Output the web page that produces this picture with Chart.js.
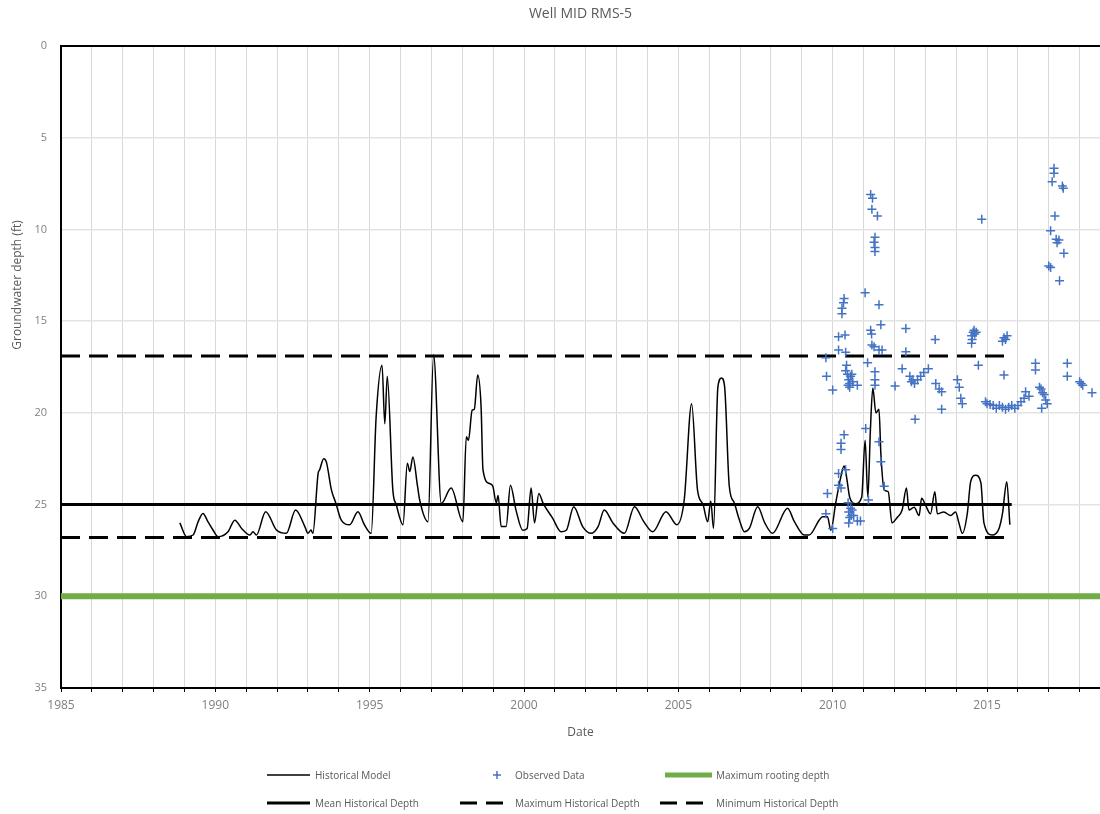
<!DOCTYPE html>
<html>
<head>
<meta charset="utf-8">
<script src="https://cdn.jsdelivr.net/npm/chart.js@4.4.1/dist/chart.umd.min.js"></script>
<style>
  html, body { margin: 0; padding: 0; background: #fff; }
  #wrap { position: relative; width: 1100px; height: 814px; }
  #c { position: absolute; left: 0; top: 0; }
  .lg { position: absolute; font-family: 'Open Sans', sans-serif; font-size: 10px; color: #595959; white-space: nowrap; line-height: 12px; }
  .sw { position: absolute; }
</style>
</head>
<body>
<div id="wrap">
  <canvas id="c" width="1100" height="814"></canvas>
</div>
<script>
// ---------- DATA ----------
const chartTitle = 'Well MID RMS-5';
const xTitle = 'Date';
const yTitle = 'Groundwater depth (ft)';
const xMin = 1985, xMax = 2018.66;
const yMin = 0, yMax = 35, yStep = 5;
const xLabelStep = 5;

const modelYears = [
  1988.85,1989.07,1989.28,1989.45,1989.6,1989.75,1989.93,1990.09,1990.41,1990.63,1990.85,1991.12,1991.22,1991.33,
  1991.63,1991.98,1992.3,1992.6,1992.9,1993.0,1993.1,1993.16,1993.33,1993.38,1993.51,1993.6,1993.76,1993.9,
  1994.08,1994.35,1994.62,1994.83,1995.05,1995.21,1995.4,1995.49,1995.57,1995.75,1995.86,1996.08,1996.22,1996.3,
  1996.4,1996.55,1996.62,1996.89,1997.07,1997.32,1997.64,1998.02,1998.13,1998.2,1998.32,1998.39,1998.5,1998.61,
  1998.67,1998.88,1998.99,1999.1,1999.16,1999.26,1999.42,1999.56,1999.74,1999.96,2000.1,2000.23,2000.34,2000.48,
  2000.62,2000.93,2001.2,2001.37,2001.61,2001.9,2002.17,2002.4,2002.6,2002.88,2003.25,2003.58,2003.87,2004.17,
  2004.6,2004.95,2005.19,2005.43,2005.62,2005.8,2005.95,2006.05,2006.14,2006.28,2006.4,2006.5,2006.65,2006.81,
  2006.97,2007.14,2007.3,2007.57,2007.8,2008.05,2008.54,2008.75,2009.08,2009.24,2009.56,2009.67,2009.83,2009.94,
  2010.1,2010.25,2010.37,2010.45,2010.55,2010.74,2010.94,2011.05,2011.14,2011.22,2011.3,2011.4,2011.5,2011.56,
  2011.67,2011.8,2011.92,2012.09,2012.25,2012.39,2012.47,2012.64,2012.8,2012.88,2013.0,2013.17,2013.31,2013.39,
  2013.6,2013.82,2013.98,2014.09,2014.2,2014.36,2014.47,2014.63,2014.8,2014.9,2015.17,2015.39,2015.5,2015.64,2015.74
];
const modelDepths = [
  26.0,26.75,26.66,25.9,25.48,25.9,26.4,26.75,26.48,25.85,26.3,26.66,26.48,26.66,
  25.39,26.39,26.57,25.3,26.2,26.57,26.39,26.57,23.3,23.1,22.5,22.7,24.2,24.9,
  25.85,26.1,25.39,26.1,26.57,20.2,17.4,20.6,18.0,24.2,25.0,26.1,22.75,23.2,
  22.4,24.0,24.75,25.93,16.85,24.94,24.1,25.94,21.3,21.5,19.85,19.8,17.94,19.7,
  23.1,23.85,24.0,24.9,24.5,26.2,26.2,23.94,25.3,26.4,26.3,24.1,26.0,24.4,
  24.94,25.75,26.48,26.4,25.12,26.2,26.57,26.2,25.3,26.0,26.57,25.12,25.9,26.48,
  25.39,26.1,24.75,19.5,24.2,25.0,25.94,24.8,26.3,18.6,18.1,18.6,24.0,24.9,
  25.8,26.48,26.3,25.12,26.0,26.57,25.2,25.9,26.66,26.66,25.85,25.66,25.66,26.4,
  24.9,23.6,22.9,23.5,24.6,24.95,24.6,21.5,24.6,21.0,18.65,20.0,19.8,22.2,
  24.2,24.3,26.0,25.7,25.3,24.1,25.3,25.15,25.6,24.66,25.0,25.5,24.3,25.5,
  25.4,25.6,25.4,26.0,26.57,25.5,23.75,23.4,23.8,26.0,26.66,26.3,25.5,23.75,26.1
];

const obsYears = [
  2009.78,2009.8,2010.0,2009.83,2009.78,2010.0,
  2010.37,2010.35,2010.3,2010.3,2010.19,2010.4,2010.19,2010.42,2010.19,2010.42,2010.19,2010.37,2010.27,2010.27,2010.27,
  2010.45,2010.42,2010.48,2010.52,2010.58,2010.55,2010.62,2010.65,2010.55,2010.8,2010.5,
  2010.5,2010.52,2010.58,2010.6,2010.63,2010.55,2010.68,2010.52,2010.8,2010.9,
  2011.05,2011.5,2011.56,2011.23,2011.26,2011.27,2011.34,2011.5,2011.6,2011.13,2011.37,2011.37,2011.37,
  2011.07,2011.5,2011.56,2011.67,2011.16,
  2011.23,2011.29,2011.27,2011.45,2011.37,2011.34,2011.37,2011.37,
  2012.37,2012.37,2012.25,2012.02,2012.5,2012.55,2012.6,2012.65,2012.75,2012.85,2012.95,2013.1,2012.67,
  2013.32,2013.34,2013.45,2013.53,2013.53,2014.04,2014.1,2014.15,2014.2,
  2014.5,2014.55,2014.6,2014.65,2014.52,2014.58,2014.5,2014.72,2014.83,
  2015.5,2015.55,2015.6,2015.65,2015.55,
  2014.95,2015.0,2015.1,2015.2,2015.3,2015.4,2015.5,2015.6,2015.7,2015.8,2015.9,2016.0,2016.1,2016.2,2016.25,2016.36,
  2016.57,2016.57,2016.7,2016.75,2016.8,2016.85,2016.9,2016.95,2016.77,
  2017.17,2017.17,2017.11,2017.44,2017.47,2017.2,2017.06,2017.24,2017.33,2017.27,2017.49,2017.0,2017.06,2017.35,
  2017.6,2017.6,2018.0,2018.05,2018.1,2018.4
];
const obsDepths = [
  17.0,18.0,18.76,24.4,25.5,26.3,
  13.76,14.0,14.3,14.6,15.85,15.76,16.57,16.7,23.3,23.1,23.94,21.2,21.66,22.0,24.1,
  17.4,17.7,17.9,18.2,18.0,18.4,17.9,18.3,18.6,18.5,18.5,
  24.9,25.4,25.2,25.6,25.3,25.7,25.6,26.0,25.9,25.9,
  13.45,14.1,15.2,15.5,15.7,16.3,16.4,16.57,16.57,17.27,17.76,18.2,18.5,
  20.85,21.57,22.67,24.0,24.75,
  8.1,8.3,8.9,9.27,10.43,10.7,10.98,11.2,
  15.4,16.67,17.6,18.54,18.0,18.3,18.2,18.4,18.2,18.0,17.8,17.6,20.35,
  16.0,18.4,18.7,18.85,19.8,18.2,18.6,19.2,19.5,
  15.8,15.6,15.7,15.6,16.0,15.5,16.2,17.4,9.45,
  16.1,15.9,16.0,15.8,17.94,
  19.4,19.5,19.55,19.6,19.75,19.6,19.7,19.8,19.7,19.6,19.75,19.6,19.4,19.2,18.85,19.1,
  17.3,17.67,18.6,18.7,18.9,19.0,19.3,19.5,19.75,
  6.67,6.94,7.4,7.63,7.76,9.27,10.07,10.54,10.58,10.72,11.3,12.0,12.07,12.8,
  17.3,18.0,18.3,18.4,18.5,18.9
];

const refStart = 1985, refEnd = 2015.8;
const meanDepth = 25.0;
const maxHistDepth = 16.9;
const minHistDepth = 26.8;
const rootingDepth = 30.0;

const legendLabels = ['Historical Model','Observed Data','Maximum rooting depth','Mean Historical Depth','Maximum Historical Depth','Minimum Historical Depth'];

// ---------- BUILD ----------
const pts = (xs, ys) => xs.map((x, i) => ({ x: x, y: ys[i] }));
const hline = (y, x0, x1) => [{ x: x0, y: y }, { x: x1, y: y }];

const FONT = "'Open Sans', sans-serif";
Chart.defaults.font.family = FONT;

const decor = {
  id: 'decor',
  beforeDatasetsDraw(chart) {
    const { ctx, chartArea: a } = chart;
    ctx.save();
    ctx.strokeStyle = '#000';
    ctx.lineWidth = 2;
    ctx.beginPath();
    ctx.moveTo(a.left, a.top);
    ctx.lineTo(a.right, a.top);
    ctx.stroke();
    ctx.restore();
  },
  afterDraw(chart) {
    const { ctx } = chart;
    ctx.save();
    ctx.translate(18, 285);
    ctx.rotate(-Math.PI / 2);
    ctx.font = '12px ' + FONT;
    ctx.fillStyle = '#595959';
    ctx.textAlign = 'center';
    ctx.textBaseline = 'middle';
    ctx.fillText(yTitle, 0, 0);
    ctx.restore();
  }
};

new Chart(document.getElementById('c'), {
  type: 'scatter',
  data: {
    datasets: [
      { label: legendLabels[2], data: hline(rootingDepth, xMin, xMax), showLine: true, borderColor: '#70AD47', borderWidth: 6, pointRadius: 0, order: 6 },
      { label: legendLabels[3], data: hline(meanDepth, refStart, refEnd), showLine: true, borderColor: '#000', borderWidth: 3, pointRadius: 0, order: 5 },
      { label: legendLabels[4], data: hline(maxHistDepth, refStart, refEnd), showLine: true, borderColor: '#000', borderWidth: 3, borderDash: [19, 9], pointRadius: 0, order: 4 },
      { label: legendLabels[5], data: hline(minHistDepth, refStart, refEnd), showLine: true, borderColor: '#000', borderWidth: 3, borderDash: [19, 9], pointRadius: 0, order: 3 },
      { label: legendLabels[0], data: pts(modelYears, modelDepths), showLine: true, borderColor: '#000', borderWidth: 1.5, pointRadius: 0, cubicInterpolationMode: 'monotone', order: 2 },
      { label: legendLabels[1], data: pts(obsYears, obsDepths), showLine: false, pointStyle: 'cross', pointRadius: 4.5, borderColor: '#4472C4', backgroundColor: '#4472C4', pointBorderWidth: 1.5, order: 1 }
    ]
  },
  options: {
    responsive: false,
    animation: false,
    layout: { autoPadding: false, padding: { left: 0, right: 0, top: 0, bottom: 70 } },
    plugins: {
      legend: { display: false },
      tooltip: { enabled: false },
      title: {
        display: true, text: chartTitle, fullSize: false,
        color: '#595959', font: { size: 14, weight: 'normal' },
        padding: { top: 5.6, bottom: 23.6 }
      }
    },
    scales: {
      x: {
        type: 'linear', min: xMin, max: xMax,
        afterBuildTicks(scale) {
          const t = [];
          for (let v = Math.ceil(xMin); v <= xMax; v++) t.push({ value: v });
          scale.ticks = t;
        },
        afterFit(scale) { scale.height = 56; scale.paddingRight = 0; },
        ticks: {
          autoSkip: false, maxRotation: 0, color: '#7f7f7f', font: { size: 12 }, padding: 6,
          callback: (v) => (v % xLabelStep === 0 ? String(v) : '')
        },
        grid: { color: '#d9d9d9', lineWidth: 1, tickColor: '#000', tickLength: 4, tickWidth: 1 },
        border: { color: '#000', width: 2 },
        title: { display: true, text: xTitle, color: '#595959', font: { size: 12 }, padding: { top: 4, bottom: 4 } }
      },
      y: {
        type: 'linear', min: yMin, max: yMax, reverse: true,
        afterFit(scale) { scale.width = 61; },
        ticks: { stepSize: yStep, color: '#7f7f7f', font: { size: 11 }, padding: 14 },
        grid: { color: '#e3e3e3', lineWidth: 1.5, drawTicks: false },
        border: { color: '#000', width: 2 }
      }
    }
  },
  plugins: [decor]
});

// ---------- HTML LEGEND ----------
const legendItems = [
  { label: legendLabels[0], kind: 'line', w: 1.5, color: '#000', sx: 267, sw: 43, tx: 315, y: 775 },
  { label: legendLabels[1], kind: 'cross', color: '#4472C4', sx: 492, sw: 10, tx: 515, y: 775 },
  { label: legendLabels[2], kind: 'line', w: 5, color: '#70AD47', sx: 665, sw: 47, tx: 716, y: 775 },
  { label: legendLabels[3], kind: 'line', w: 3, color: '#000', sx: 267, sw: 43, tx: 315, y: 803 },
  { label: legendLabels[4], kind: 'dash', w: 3, color: '#000', sx: 460, sw: 50, tx: 515, y: 803 },
  { label: legendLabels[5], kind: 'dash', w: 3, color: '#000', sx: 660, sw: 52, tx: 716, y: 803 }
];
const wrap = document.getElementById('wrap');
legendItems.forEach(it => {
  const s = document.createElementNS('http://www.w3.org/2000/svg', 'svg');
  s.setAttribute('class', 'sw');
  s.setAttribute('width', it.sw);
  s.setAttribute('height', 12);
  s.style.left = it.sx + 'px';
  s.style.top = (it.y - 6) + 'px';
  if (it.kind === 'cross') {
    s.innerHTML = `<line x1="5" y1="2" x2="5" y2="10" stroke="${it.color}" stroke-width="1.5"/><line x1="1" y1="6" x2="9" y2="6" stroke="${it.color}" stroke-width="1.5"/>`;
  } else {
    const dash = it.kind === 'dash' ? 'stroke-dasharray="17 9"' : '';
    s.innerHTML = `<line x1="0" y1="6" x2="${it.sw}" y2="6" stroke="${it.color}" stroke-width="${it.w}" ${dash}/>`;
  }
  wrap.appendChild(s);
  const d = document.createElement('div');
  d.className = 'lg';
  d.style.left = it.tx + 'px';
  d.style.top = (it.y - 6) + 'px';
  d.textContent = it.label;
  wrap.appendChild(d);
});
</script>
</body>
</html>
